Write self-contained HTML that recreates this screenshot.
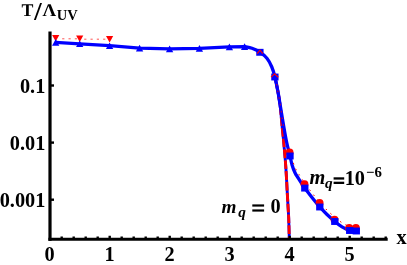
<!DOCTYPE html>
<html><head><meta charset="utf-8">
<style>
html,body{margin:0;padding:0;background:#fff;}
body{width:407px;height:265px;overflow:hidden;}
svg{display:block;will-change:transform;opacity:0.999;}
text{font-family:"Liberation Serif",serif;font-weight:bold;fill:#000;}
</style></head>
<body>
<svg width="407" height="265" viewBox="0 0 407 265">
<rect width="407" height="265" fill="#fff"/>
<!-- red dotted top -->
<g stroke="#ff4040" stroke-width="0.9" fill="none">
<path d="M62.2 38.8H77" stroke-dasharray="2.2 4.1"/>
<path d="M84.2 39.2H106" stroke-dasharray="2.2 4.1"/>
</g>
<g fill="#f00">
<path d="M52.1 35.1h7.2l-3.6 6.5z"/>
<path d="M76.1 35.4h7.2l-3.6 6.5z"/>
<path d="M106.0 36.0h7.2l-3.6 6.5z"/>
</g>
<!-- blue triangles -->
<g fill="#00f">
<path d="M55.7 39.1l3.65 6.6h-7.3z"/>
<path d="M79.7 40.5l3.65 6.6h-7.3z"/>
<path d="M109.6 42.4l3.65 6.6h-7.3z"/>
<path d="M139.6 44.8l3.65 6.6h-7.3z"/>
<path d="M169.6 45.6l3.65 6.6h-7.3z"/>
<path d="M199.4 45.1l3.65 6.6h-7.3z"/>
<path d="M229.4 43.6l3.65 6.6h-7.3z"/>
<path d="M244.6 43.3l3.65 6.6h-7.3z"/>
</g>
<!-- dashed mq=0 -->
<path id="mq0b" d="M289.3 238.5C289.2 235.1 288.9 223.8 288.7 218.0C288.5 212.2 288.2 210.3 287.9 204.0C287.5 197.7 287.0 187.3 286.6 180.0C286.2 172.7 285.8 166.3 285.3 160.0C284.8 153.7 284.2 147.8 283.7 142.0C283.1 136.2 282.6 130.8 282.0 125.0C281.4 119.2 281.0 112.5 280.3 107.0C279.6 101.5 278.9 97.0 278.0 92.0C277.1 87.0 275.4 79.4 274.9 76.9" stroke="#00f" stroke-width="2.9" fill="none"/>
<path id="mq0r" d="M289.3 238.5C289.2 235.1 288.9 223.8 288.7 218.0C288.5 212.2 288.2 210.3 287.9 204.0C287.5 197.7 287.0 187.3 286.6 180.0C286.2 172.7 285.8 166.3 285.3 160.0C284.8 153.7 284.2 147.8 283.7 142.0C283.1 136.2 282.6 130.8 282.0 125.0C281.4 119.2 281.0 112.5 280.3 107.0C279.6 101.5 278.9 97.0 278.0 92.0C277.1 87.0 275.4 79.4 274.9 76.9" stroke="#f00" stroke-width="2.9" fill="none" stroke-dasharray="8.65 2.2" stroke-dashoffset="6.35"/>
<!-- blue curve -->
<path d="M55.7 42.4L79.7 43.8L109.6 45.7L139.6 48.1L169.6 48.9L199.4 48.4L229.4 46.9L244.6 46.6C245.8 46.9 249.4 47.4 252.0 48.3C254.6 49.2 257.4 50.5 259.9 52.2C262.4 53.9 265.1 56.0 267.1 58.5C269.1 61.0 270.5 63.9 271.8 67.0C273.1 70.1 273.9 72.7 274.9 76.9C275.9 81.1 277.1 87.0 278.0 92.0C278.9 97.0 279.6 101.5 280.5 107.0C281.4 112.5 282.5 119.2 283.5 125.0C284.5 130.8 285.5 136.8 286.6 142.0C287.7 147.2 289.1 152.1 290.0 155.9C290.9 159.7 291.2 161.9 292.0 164.7C292.8 167.5 293.9 170.4 295.0 172.7C296.1 175.0 296.8 175.8 298.4 178.3C300.0 180.9 302.5 184.8 304.8 188.0C307.1 191.2 309.5 194.3 312.0 197.5C314.5 200.7 317.3 204.1 319.8 206.9C322.3 209.7 324.5 212.1 327.0 214.5C329.5 216.9 332.3 219.3 334.8 221.4C337.3 223.5 339.5 225.3 342.0 226.8C344.5 228.3 347.3 229.7 349.7 230.4C352.1 231.1 355.2 230.8 356.3 230.9" stroke="#00f" stroke-width="3.3" fill="none" stroke-linejoin="round"/>
<path d="M276.6 84C278 92 279.6 100 281 110C282 116 282.8 121 283.6 127" stroke="#f00" stroke-width="1" stroke-dasharray="1.6 5.2" fill="none" opacity=".85"/>
<!-- red dotted series -->
<path d="M290.0 155.9C290.3 157.4 291.2 161.9 292.0 164.7C292.8 167.5 293.9 170.4 295.0 172.7C296.1 175.0 296.8 175.8 298.4 178.3C300.0 180.9 302.5 184.8 304.8 188.0C307.1 191.2 309.5 194.3 312.0 197.5C314.5 200.7 317.3 204.1 319.8 206.9C322.3 209.7 324.5 212.1 327.0 214.5C329.5 216.9 332.3 219.3 334.8 221.4C337.3 223.5 339.5 225.3 342.0 226.8C344.5 228.3 347.3 229.7 349.7 230.4C352.1 231.1 355.2 230.8 356.3 230.9" stroke="#f00" stroke-width="1" stroke-dasharray="1.6 4.7" stroke-dashoffset="1.8" fill="none" transform="translate(0.8,-3.6)"/>
<!-- red circles -->
<g fill="#f00">
<circle cx="289.6" cy="152.5" r="3.95"/>
<circle cx="304.5" cy="184.3" r="3.95"/>
<circle cx="319.6" cy="202.9" r="3.95"/>
<circle cx="334.5" cy="219.6" r="3.95"/>
<circle cx="349.2" cy="228" r="3.95"/>
<circle cx="355.9" cy="228" r="3.95"/>
</g>
<!-- squares -->
<g fill="#00f">
<rect x="256.25" y="48.85" width="7.3" height="6.9"/>
<rect x="271.25" y="73.55" width="7.3" height="6.9"/>
<rect x="286.35" y="152.55" width="7.3" height="6.9"/>
<rect x="301.15" y="184.65" width="7.3" height="6.9"/>
<rect x="316.15" y="203.55" width="7.3" height="6.9"/>
<rect x="331.15" y="218.05" width="7.3" height="6.9"/>
<rect x="346.05" y="227.05" width="7.3" height="6.9"/>
<rect x="352.65" y="227.55" width="7.3" height="6.9"/>
</g>
<!-- red carets on first two squares -->
<g stroke="#f00" stroke-width="1.15" fill="none" stroke-linejoin="miter">
<path d="M257.2 53.6L260 50.1L262.8 53.6"/>
<path d="M271 77.2L274.5 73.9L278.3 77.2"/>
</g>
<!-- axes -->
<g stroke="#000" fill="none">
<line x1="50" y1="31.5" x2="50" y2="240.8" stroke-width="3.2"/>
<line x1="48.4" y1="239.3" x2="387.7" y2="239.3" stroke-width="3"/>
<!-- y major ticks -->
<g stroke-width="2.4">
<line x1="50" y1="85.5" x2="54" y2="85.5"/>
<line x1="50" y1="142.6" x2="54" y2="142.6"/>
<line x1="50" y1="199.7" x2="54" y2="199.7"/>
</g>
</g>
<g stroke="#000" stroke-width="2.4" fill="none">
<path d="M61.7 238v-1.4M73.7 238v-1.4M85.7 238v-1.4M97.7 238v-1.4M121.7 238v-1.4M133.7 238v-1.4M145.7 238v-1.4M157.7 238v-1.4M181.7 238v-1.4M193.7 238v-1.4M205.7 238v-1.4M217.7 238v-1.4M241.7 238v-1.4M253.7 238v-1.4M265.7 238v-1.4M277.7 238v-1.4M301.7 238v-1.4M313.7 238v-1.4M325.7 238v-1.4M337.7 238v-1.4M361.7 238v-1.4M373.7 238v-1.4M385.7 238v-1.4"/>
<path d="M109.7 238v-2.3M169.7 238v-2.3M229.7 238v-2.3M289.7 238v-2.3M349.7 238v-2.3"/>
</g>
<!-- text -->
<g id="title">
<text transform="translate(21.5,16) rotate(0.05)" font-size="17.8">T</text>
<path d="M40.1 2.9h1.9l-6.2 17.1h-1.9z" fill="#000"/>
<text transform="translate(42.5,16) rotate(0.05) scale(1.06,1)" font-size="18">Λ</text>
<text x="56.7" y="20" font-size="14.5">UV</text>
</g>
<text x="45.3" y="92.6" font-size="20.3" text-anchor="end">0.1</text>
<text x="45.3" y="149.6" font-size="20.3" text-anchor="end">0.01</text>
<text x="45.3" y="206.8" font-size="20.3" text-anchor="end">0.001</text>
<g font-size="20.3" text-anchor="middle">
<text x="49.5" y="261.3">0</text>
<text x="109.5" y="261.3">1</text>
<text x="169.5" y="261.3">2</text>
<text x="229.5" y="261.3">3</text>
<text x="289.5" y="261.3">4</text>
<text x="349.5" y="261.3">5</text>
</g>
<text x="396.4" y="244.3" font-size="20.3">x</text>
<text x="221.6" y="212.9" font-size="19.2" font-style="italic">m</text>
<text x="238.2" y="216.9" font-size="15.3" font-style="italic">q</text>
<rect x="252.3" y="204.4" width="11.8" height="2.2"/><rect x="252.3" y="209.4" width="11.8" height="2.2"/>
<text x="275.6" y="213.2" font-size="20.3" text-anchor="middle">0</text>
<text x="309.6" y="184.4" font-size="20.3" font-style="italic">m</text>
<text x="324.9" y="188.1" font-size="15.3" font-style="italic">q</text>
<rect x="333.6" y="177.3" width="10.6" height="2.3"/><rect x="333.6" y="181.7" width="10.6" height="2.3"/>
<text x="344.7" y="184.7" font-size="20.3">10</text>
<text x="366.0" y="176.7" font-size="14.8">−6</text>
</svg>
</body></html>
